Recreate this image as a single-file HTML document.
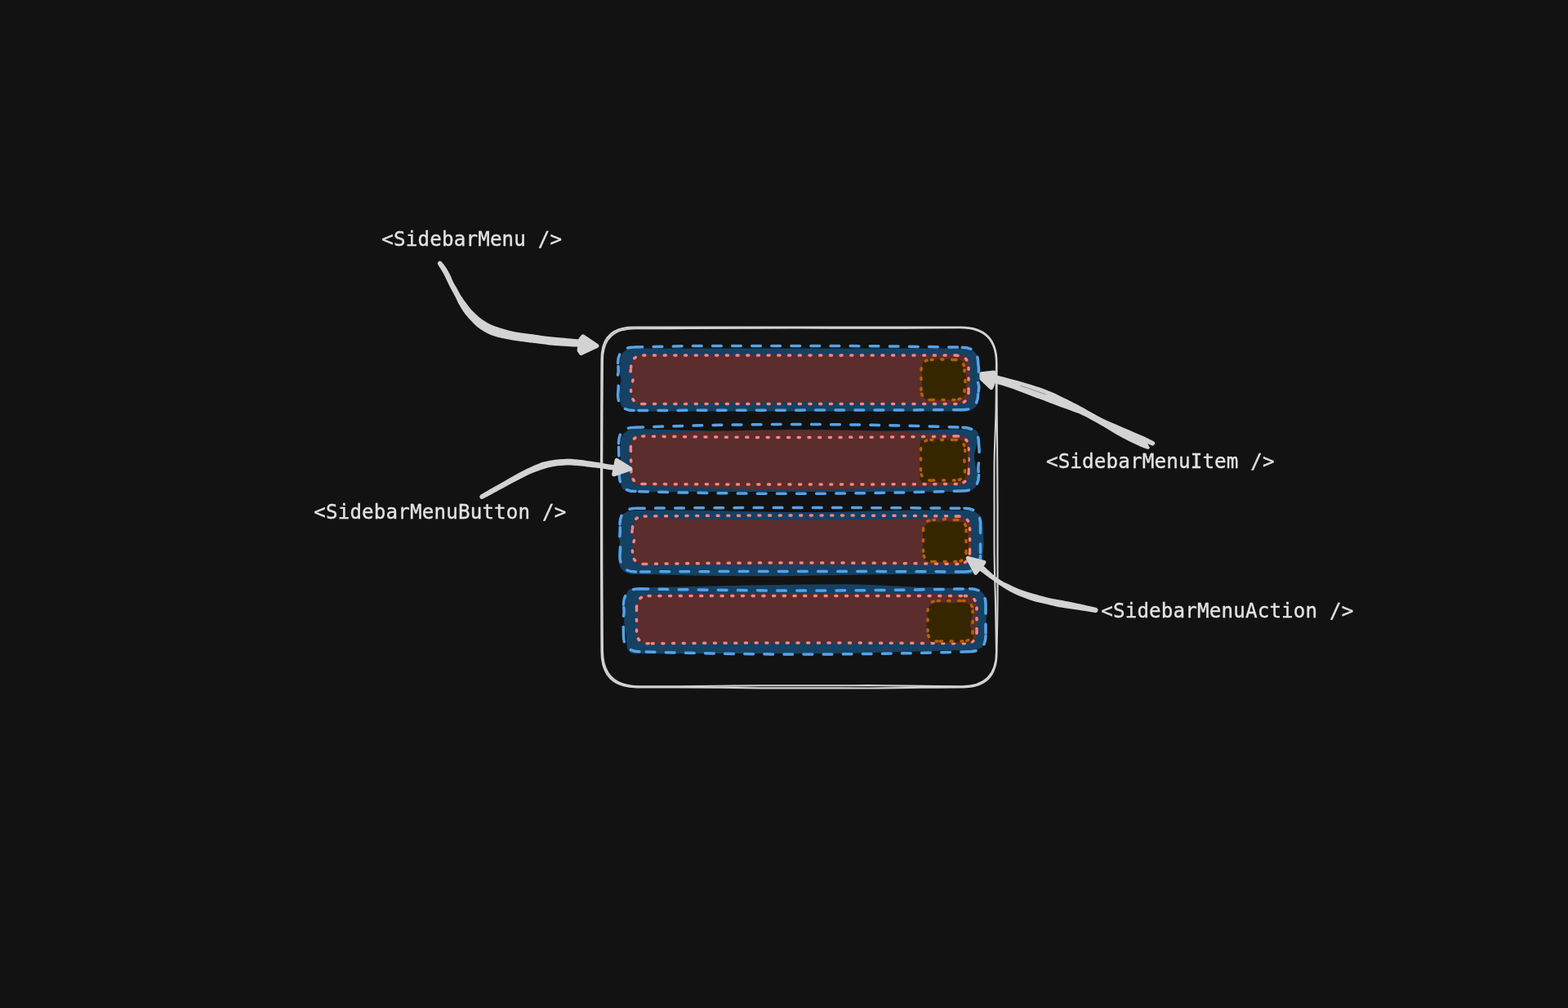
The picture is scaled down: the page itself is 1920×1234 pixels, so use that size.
<!DOCTYPE html>
<html lang="en">
<head>
<meta charset="utf-8">
<title>SidebarMenu anatomy</title>
<style>
html,body{margin:0;padding:0;background:#121212;}
body{width:1920px;height:1234px;overflow:hidden;font-family:"DejaVu Sans Mono","Liberation Mono",monospace;}
svg{display:block;position:absolute;left:0;top:0;}
</style>
</head>
<body>
<svg width="1920" height="1234" viewBox="0 0 1920 1234">
<rect width="1920" height="1234" fill="#121212"/>
<path d="M775.5 400.6C786.6 400.6 820.1 400.6 842.3 400.6C864.6 400.6 886.9 400.6 909.2 400.6C931.4 400.6 953.7 400.6 976 400.6C998.3 400.6 1020.6 400.5 1042.8 400.5C1065.1 400.5 1087.4 400.5 1109.7 400.5C1131.9 400.5 1165.4 400.6 1176.5 400.6Q1220.5 400.6 1220.5 444.6C1220.5 454.5 1220.6 484 1220.7 503.7C1220.8 523.4 1221.1 543.2 1221.2 562.9C1221.3 582.6 1221.5 602.3 1221.5 622C1221.5 641.7 1221.5 661.4 1221.5 681.1C1221.5 700.8 1221.7 720.6 1221.5 740.3C1221.3 760 1220.7 789.5 1220.5 799.4Q1220.5 841.4 1178.5 841.4C1170.2 841.5 1145.3 841.6 1128.8 841.8C1112.2 842 1095.6 842.3 1079 842.4C1062.4 842.5 1045.8 842.4 1029.2 842.4C1012.7 842.4 996.1 842.4 979.5 842.4C962.9 842.4 946.3 842.5 929.8 842.4C913.2 842.3 896.6 841.9 880 841.7C863.4 841.5 846.8 841.4 830.2 841.4C813.7 841.4 788.8 841.4 780.5 841.4Q736.5 841.4 736.5 797.4Q735.5 618.5 736.5 439.6Q736.5 400.6 775.5 400.6Z" fill="none" stroke="#d3d3d3" stroke-width="2.1" stroke-linecap="round" stroke-linejoin="round"/>
<path d="M776.9 402.2C788 402.2 821.2 402.1 843.4 402C865.6 401.9 887.8 401.8 909.9 401.7C932.1 401.6 954.3 401.5 976.5 401.5C998.6 401.5 1020.8 401.7 1043 401.7C1065.1 401.8 1087.3 401.8 1109.5 401.7C1131.7 401.6 1164.9 401.3 1176 401.2Q1220 401.1 1220 445.1C1219.9 454.9 1219.9 484.3 1219.5 504C1219.1 523.6 1217.9 543.2 1217.6 562.8C1217.3 582.4 1217.5 602 1217.5 621.7C1217.5 641.3 1217.3 660.9 1217.6 680.5C1217.8 700.1 1218.6 719.7 1219 739.4C1219.4 759 1219.8 788.4 1220 798.2Q1220 840.2 1178 840.2C1169.7 840.2 1145 840.1 1128.5 839.9C1112 839.7 1095.5 839.3 1079 839.2C1062.5 839.1 1046 839.2 1029.5 839.2C1013 839.2 996.5 839.2 980 839.2C963.4 839.2 946.9 839.1 930.4 839.2C913.9 839.3 897.4 839.6 880.9 839.8C864.4 840 847.9 840.1 831.4 840.2C814.9 840.3 790.2 840.2 781.9 840.2Q737.9 840.2 737.9 796.2Q736.5 618.8 737.9 441.3Q737.9 402.3 776.9 402.2Z" fill="none" stroke="#d3d3d3" stroke-width="2.1" stroke-linecap="round" stroke-linejoin="round"/>
<path d="M776.3 426.4Q977.9 426.4 1179.5 426.4Q1199 426.4 1199 445.9Q1199 464.9 1199 484Q1199 503.5 1179.5 503.5Q976.9 503.5 774.3 503.5Q759.3 503.5 759.3 488.5C759.2 486.6 758.3 481 758.5 477.2C758.7 473.5 760.3 469.7 760.3 465.9C760.3 462.2 758.9 458.4 758.7 454.7C758.5 450.9 759.2 445.3 759.3 443.4Q759.3 426.4 776.3 426.4Z" fill="#154163"/>
<path d="M776.1 425.1C787.3 424.9 820.8 423.9 843.1 423.6C865.5 423.3 887.8 423.5 910.1 423.4C932.5 423.4 954.8 423.4 977.2 423.4C999.5 423.5 1021.8 423.4 1044.2 423.6C1066.5 423.7 1088.8 423.9 1111.2 424.2C1133.5 424.5 1167 425 1178.2 425.2M1178.2 425.2Q1197.7 425.2 1197.7 444.7M1197.7 444.7C1197.8 446.3 1198.7 451 1198.5 454.1C1198.3 457.2 1196.5 460.4 1196.5 463.5C1196.5 466.6 1198.5 469.8 1198.7 472.9C1198.9 476 1197.9 480.7 1197.7 482.3M1197.7 482.3Q1197.7 501.8 1178.2 501.8M1178.2 501.8Q977.1 502.1 776.1 502.5M776.1 502.5Q756.6 502.5 756.6 483M756.6 483C756.7 481.4 757.3 476.6 757.2 473.4C757.1 470.2 755.8 467 755.8 463.8C755.8 460.6 757.1 457.4 757.2 454.2C757.3 451 756.7 446.2 756.6 444.6M756.6 444.6Q756.6 425.1 776.1 425.1" fill="none" stroke="#56a2e8" stroke-width="3.5" stroke-linecap="round" stroke-linejoin="round" stroke-dasharray="10.7 13.4"/>
<path d="M787.8 434.3Q980.5 434.3 1173.2 434.3Q1188 434.3 1188 449.1Q1188 464.6 1188 480.2Q1188 495 1173.2 495Q980.5 490 787.8 495Q773 495 773 480.2C773 478.9 772.6 475.1 773 472.4C773.4 469.8 775.2 467.2 775.2 464.6C775.2 462 773.1 459.5 772.7 456.9C772.3 454.2 773 450.4 773 449.1Q773 434.3 787.8 434.3Z" fill="#5b2d2d"/>
<path d="M787.8 435.1Q979.3 435.1 1170.8 435.1M1170.8 435.1Q1186 435.1 1186 450.3M1186 450.3Q1186 464.8 1186 479.3M1186 479.3Q1186 494.5 1170.8 494.5M1170.8 494.5Q979.3 494.5 787.8 494.5M787.8 494.5Q772.6 494.5 772.6 479.3M772.6 479.3C772.6 478.1 772.2 474.5 772.6 472.1C773 469.6 775.1 467.2 775 464.8C774.9 462.4 772.6 460 772.2 457.6C771.8 455.1 772.5 451.5 772.6 450.3M772.6 450.3Q772.6 435.1 787.8 435.1" fill="none" stroke="#ff8383" stroke-width="3.5" stroke-linecap="round" stroke-linejoin="round" stroke-dasharray="2 10.7"/>
<path d="M1140 439.5Q1154.8 439.5 1169.5 439.5Q1182.5 439.5 1182.5 452.5C1182.5 453.5 1182.3 456.6 1182.5 458.6C1182.7 460.7 1183.6 462.7 1183.7 464.8C1183.8 466.8 1183.3 468.8 1183.1 470.9C1182.9 472.9 1182.6 476 1182.5 477Q1182.5 489 1170.5 489Q1154.2 490.2 1138 489Q1129 489 1129 480Q1129 465.2 1129 450.5Q1129 439.5 1140 439.5Z" fill="#362600"/>
<path d="M1140.2 440.5Q1154.5 439.3 1168.8 440.5M1168.8 440.5Q1181 440.5 1181 452.8M1181 452.8C1181 453.8 1181.1 456.8 1181.3 458.9C1181.5 460.9 1181.9 463 1181.9 465C1182 467 1181.8 469.1 1181.6 471.1C1181.4 473.2 1181.1 476.2 1181 477.2M1181 477.2Q1181 489.5 1168.8 489.5M1168.8 489.5Q1154.5 489.5 1140.2 489.5M1140.2 489.5Q1128 489.5 1128 477.2M1128 477.2Q1128 465 1128 452.8M1128 452.8Q1128 440.5 1140.2 440.5" fill="none" stroke="#b76100" stroke-width="3.5" stroke-linecap="round" stroke-linejoin="round" stroke-dasharray="2 10.7"/>
<path d="M779.1 525Q983.3 532.2 1187.6 525Q1198.6 525 1198.6 536C1198.2 537.5 1196.9 542.2 1196 545.3C1195.1 548.4 1193.6 551.5 1193.2 554.6C1192.8 557.7 1193 560.8 1193.4 563.9C1193.8 567 1194.5 570.1 1195.4 573.2C1196.3 576.3 1198.1 581 1198.6 582.5Q1198.6 602 1179.1 602Q975.5 602 772 602Q760 602 759.9 590Q759.8 567.2 759.7 544.5Q759.6 525 779.1 525Z" fill="#154163"/>
<path d="M776.7 523.3Q977.9 515.7 1179 523.3M1179 523.3Q1198.5 523.3 1198.5 542.8M1198.5 542.8C1198.6 544.4 1199 549.2 1199.1 552.5C1199.2 555.7 1199.1 558.9 1198.9 562.1C1198.7 565.4 1198 568.6 1197.9 571.8C1197.8 575.1 1198.4 579.9 1198.5 581.5M1198.5 581.5Q1198.5 601 1179 601M1179 601Q978.5 607.3 778.1 601.6M778.1 601.6Q758.6 601.6 758.3 582.1M758.3 582.1Q757.9 562.5 757.5 542.8M757.5 542.8Q757.2 523.3 776.7 523.3" fill="none" stroke="#56a2e8" stroke-width="3.5" stroke-linecap="round" stroke-linejoin="round" stroke-dasharray="10.7 13.4"/>
<path d="M786.2 532.5Q979.2 519.7 1172.2 532.5Q1187 532.5 1187 547.2Q1187 563.2 1187 579.2Q1187 594 1172.2 594Q979.2 604.8 786.2 594Q771.5 594 771.5 579.2Q771.5 563.2 771.5 547.2Q771.5 532.5 786.2 532.5Z" fill="#5b2d2d"/>
<path d="M786.8 534Q979 537 1171.2 534M1171.2 534Q1186 534 1186 548.8M1186 548.8Q1186 563.2 1186 577.8M1186 577.8Q1186 592.5 1171.2 592.5M1171.2 592.5Q979.6 593.5 788 592.5M788 592.5Q773.2 592.5 772.9 577.8M772.9 577.8Q772.6 563.2 772.3 548.7M772.3 548.7Q772 534 786.8 534" fill="none" stroke="#ff8383" stroke-width="3.5" stroke-linecap="round" stroke-linejoin="round" stroke-dasharray="2 10.7"/>
<path d="M1131.6 538Q1151.6 538 1171.6 538Q1184.6 538 1184.6 551C1184.7 552 1184.8 555 1185 557C1185.2 559.1 1185.6 561.1 1185.6 563.1C1185.6 565.1 1185 567.1 1184.8 569.2C1184.6 571.2 1184.6 574.2 1184.6 575.2Q1184.6 590.2 1169.6 590.2Q1150.6 590.2 1131.6 590.2Q1126.6 590.2 1126.6 585.2Q1126.6 564.1 1126.6 543Q1126.6 538 1131.6 538Z" fill="#362600"/>
<path d="M1139.8 538.5Q1154.5 538.5 1169.2 538.5M1169.2 538.5Q1181.5 538.5 1181.5 550.8M1181.5 550.8C1181.6 551.8 1182.4 554.9 1182.3 557C1182.2 559.1 1180.7 561.2 1180.7 563.2C1180.7 565.3 1182.2 567.4 1182.3 569.5C1182.4 571.6 1181.6 574.7 1181.5 575.8M1181.5 575.8Q1181.5 588 1169.2 588M1169.2 588Q1154.5 588 1139.8 588M1139.8 588Q1127.5 588 1127.5 575.8M1127.5 575.8Q1127.5 563.2 1127.5 550.8M1127.5 550.8Q1127.5 538.5 1139.8 538.5" fill="none" stroke="#b76100" stroke-width="3.5" stroke-linecap="round" stroke-linejoin="round" stroke-dasharray="2 10.7"/>
<path d="M777 625C786.7 624.9 815.8 624.5 835.2 624.6C854.5 624.7 873.9 625.2 893.3 625.6C912.7 626 932.1 626.6 951.5 626.8C970.9 627 990.2 627.2 1009.6 627C1029 626.8 1048.4 626 1067.8 625.6C1087.2 625.2 1106.6 624.7 1125.9 624.6C1145.3 624.5 1174.4 624.9 1184.1 625Q1203.6 625 1203.6 644.5C1203.7 646.1 1203.8 651 1204 654.2C1204.2 657.5 1204.6 660.8 1204.6 664C1204.6 667.2 1204.2 670.5 1204 673.8C1203.8 677 1203.7 681.9 1203.6 683.5Q1203.6 703 1184.1 703C1172.8 703 1138.9 702.9 1116.2 703C1093.6 703.1 1071 703.5 1048.4 703.8C1025.8 704.1 1003.2 704.8 980.5 705C957.9 705.2 935.3 705.3 912.7 705.2C890.1 705.1 867.5 704.8 844.8 704.4C822.2 704 788.3 703.2 777 703Q757.5 703 757.5 683.5C757.4 681.9 756.6 677 756.9 673.8C757.2 670.5 759.1 667.2 759.1 664C759.1 660.8 757 657.5 756.7 654.2C756.4 651 757.4 646.1 757.5 644.5Q757.5 625 777 625Z" fill="#154163"/>
<path d="M778.5 622.3Q979.8 620.7 1181 622.3M1181 622.3Q1200.5 622.3 1200.5 641.8M1200.5 641.8Q1200.5 661.1 1200.5 680.5M1200.5 680.5Q1200.5 700 1181 700M1181 700Q979.8 699 778.5 700M778.5 700Q759 700 759 680.5M759 680.5C759.1 678.9 759.7 674.1 759.6 670.8C759.5 667.6 758.4 664.4 758.4 661.1C758.4 657.9 759.3 654.7 759.4 651.5C759.5 648.2 759.1 643.4 759 641.8M759 641.8Q759 622.3 778.5 622.3" fill="none" stroke="#56a2e8" stroke-width="3.5" stroke-linecap="round" stroke-linejoin="round" stroke-dasharray="10.7 13.4"/>
<path d="M789.8 633.5Q982.5 640.5 1175.2 633.5Q1190 633.5 1190 648.2Q1190 662.5 1190 676.8Q1190 691.5 1175.2 691.5Q982.5 690.5 789.8 691.5Q775 691.5 775 676.8C774.9 675.6 774.1 672 774.4 669.6C774.7 667.2 776.8 664.9 776.8 662.5C776.8 660.1 774.9 657.8 774.6 655.4C774.3 653 774.9 649.4 775 648.2Q775 633.5 789.8 633.5Z" fill="#5b2d2d"/>
<path d="M789.2 632Q981 630 1172.8 632M1172.8 632Q1187.5 632 1187.5 646.8M1187.5 646.8Q1187.5 661.2 1187.5 675.8M1187.5 675.8Q1187.5 690.5 1172.8 690.5M1172.8 690.5Q981 687.5 789.2 690.5M789.2 690.5Q774.5 690.5 774.5 675.8M774.5 675.8C774.4 674.5 773.8 670.9 774.1 668.5C774.4 666.1 776.5 663.7 776.5 661.2C776.5 658.8 774.2 656.4 773.9 654C773.6 651.6 774.4 648 774.5 646.8M774.5 646.8Q774.5 632 789.2 632" fill="none" stroke="#ff8383" stroke-width="3.5" stroke-linecap="round" stroke-linejoin="round" stroke-dasharray="2 10.7"/>
<path d="M1146 638.6C1147.1 638.7 1150.5 639.4 1152.8 639.2C1155 639.1 1157.2 637.8 1159.5 637.7C1161.8 637.7 1164 638.8 1166.2 638.9C1168.5 639 1171.9 638.6 1173 638.6Q1185 638.6 1185 650.6C1185 651.7 1184.9 655 1185 657.2C1185.1 659.4 1185.7 661.6 1185.8 663.8C1185.9 666 1185.9 668.2 1185.8 670.4C1185.7 672.6 1185.1 675.9 1185 677Q1185 688 1174 688Q1157.5 688 1141 688Q1130 688 1130 677Q1130 665.8 1130 654.6Q1130 638.6 1146 638.6Z" fill="#362600"/>
<path d="M1142.8 636.5C1143.9 636.5 1147.4 636.6 1149.8 636.5C1152.1 636.4 1154.4 635.6 1156.8 635.6C1159.1 635.6 1161.4 636.4 1163.8 636.5C1166.1 636.6 1169.6 636.5 1170.8 636.5M1170.8 636.5Q1183 636.5 1183 648.8M1183 648.8Q1183 662 1183 675.2M1183 675.2Q1183 687.5 1170.8 687.5M1170.8 687.5Q1156.8 687.5 1142.8 687.5M1142.8 687.5Q1130.5 687.5 1130.5 675.2M1130.5 675.2Q1130.5 662 1130.5 648.8M1130.5 648.8Q1130.5 636.5 1142.8 636.5" fill="none" stroke="#b76100" stroke-width="3.5" stroke-linecap="round" stroke-linejoin="round" stroke-dasharray="2 10.7"/>
<path d="M779 719.5C790.4 719.3 824.5 718.5 847.2 718C870 717.5 892.7 717 915.5 716.5C938.2 716.1 961 715.7 983.8 715.5C1006.5 715.3 1029.3 714.9 1052 715.4C1074.8 715.9 1097.5 717.7 1120.3 718.5C1143 719.3 1177.1 720.1 1188.5 720.5Q1208 720.5 1208 740C1208 741.6 1208.1 746.4 1208 749.6C1207.9 752.8 1207.6 756 1207.6 759.2C1207.6 762.5 1207.9 765.7 1208 768.9C1208.1 772.1 1208 776.9 1208 778.5Q1208 795.5 1191 795.7C1179.5 796 1145.2 796.8 1122.3 797.5C1099.4 798.1 1076.4 799.1 1053.5 799.6C1030.6 800 1007.7 800 984.8 800C961.9 800.1 939 800 916.1 800C893.2 800 870.2 800 847.3 800.1C824.4 800.2 790.1 800.3 778.6 800.4Q767.6 800.5 767.4 789.5C767.2 787.1 767 780 766.5 775.3C766 770.5 764.4 765.8 764.2 761C764 756.2 765 751.5 765.3 746.7C765.7 742 766.1 734.9 766.3 732.5Q766 719.5 779 719.5Z" fill="#154163"/>
<path d="M783 720.7Q985.2 725.3 1187.5 720.7M1187.5 720.7Q1207 720.7 1207 740.2M1207 740.2Q1207 759.2 1207 778.2M1207 778.2Q1207 797.7 1187.5 797.7M1187.5 797.7Q985.2 804.3 783 797.7M783 797.7Q763.5 797.7 763.5 778.2M763.5 778.2C763.5 776.6 763.4 771.9 763.3 768.7C763.2 765.5 762.8 762.4 762.9 759.2C763 756 764 752.9 764.1 749.7C764.2 746.5 763.6 741.8 763.5 740.2M763.5 740.2Q763.5 720.7 783 720.7" fill="none" stroke="#56a2e8" stroke-width="3.5" stroke-linecap="round" stroke-linejoin="round" stroke-dasharray="10.7 13.4"/>
<path d="M794.8 728Q988 724 1181.2 728Q1196 728 1196 742.8Q1196 758.2 1196 773.8Q1196 788.5 1181.2 788.5Q988 784.5 794.8 788.5Q780 788.5 780 773.8Q780 758.2 780 742.8Q780 728 794.8 728Z" fill="#5b2d2d"/>
<path d="M794.2 729.4Q987.8 729.4 1181.2 729.4M1181.2 729.4Q1196 729.4 1196 744.1M1196 744.1Q1196 758.6 1196 773M1196 773Q1196 787.8 1181.2 787.8M1181.2 787.8Q987.8 786.2 794.2 787.8M794.2 787.8Q779.5 787.8 779.5 773M779.5 773Q779.5 758.6 779.5 744.1M779.5 744.1Q779.5 729.4 794.2 729.4" fill="none" stroke="#ff8383" stroke-width="3.5" stroke-linecap="round" stroke-linejoin="round" stroke-dasharray="2 10.7"/>
<path d="M1148.6 737.8C1149.9 737.7 1153.7 737.1 1156.2 737.2C1158.8 737.3 1161.4 738.6 1163.9 738.6C1166.5 738.6 1169 737.5 1171.5 737.4C1174.1 737.3 1177.9 737.7 1179.2 737.8Q1191.2 737.8 1191.2 749.8C1191 751.1 1190.4 754.9 1189.8 757.5C1189.2 760.1 1187.7 762.6 1187.8 765.2C1187.9 767.8 1190 770.3 1190.6 772.9C1191.2 775.5 1191.1 779.3 1191.2 780.6Q1191.2 786.6 1185.2 786.6Q1166.4 786.6 1147.6 786.6Q1135.6 786.6 1135.6 774.6C1135.5 773.6 1135.2 770.6 1135 768.6C1134.8 766.7 1134.5 764.7 1134.6 762.7C1134.7 760.7 1135.4 758.7 1135.6 756.8C1135.8 754.8 1135.6 751.8 1135.6 750.8Q1135.6 737.8 1148.6 737.8Z" fill="#362600"/>
<path d="M1148.2 735.5Q1163.5 735.5 1178.8 735.5M1178.8 735.5Q1191 735.5 1191 747.8M1191 747.8Q1191 760.2 1191 772.8M1191 772.8Q1191 785 1178.8 785M1178.8 785Q1163.5 785 1148.2 785M1148.2 785Q1136 785 1136 772.8M1136 772.8Q1136 760.2 1136 747.8M1136 747.8Q1136 735.5 1148.2 735.5" fill="none" stroke="#b76100" stroke-width="3.5" stroke-linecap="round" stroke-linejoin="round" stroke-dasharray="2 10.7"/>
<path d="M540.4 320.2C541.4 321.4 544.4 324.9 546.1 327.5C547.8 330.1 549.3 332.9 550.8 335.8C552.3 338.8 553.6 342.4 555 345.2C556.4 348 557.6 349.7 559.2 352.5C560.8 355.3 562.3 358.6 564.4 361.9C566.5 365.2 569.6 369.4 571.9 372.5C574.2 375.6 576 378 578.4 380.6C580.8 383.2 583.7 385.7 586.3 387.9C588.9 390.1 591.5 392 594.1 393.6C596.7 395.2 598.9 396.5 601.9 397.8C604.9 399.1 608.8 400.4 612.3 401.5C615.8 402.6 619.2 403.7 622.7 404.6C626.2 405.5 629.6 406.1 633.1 406.7C636.6 407.3 639.8 407.7 643.5 408.2C647.2 408.7 650.7 409 655.3 409.7C659.9 410.4 666 411.5 671.3 412.1C676.6 412.8 681.7 413.1 686.9 413.6C692.1 414.1 698 414.6 702.5 414.9C707 415.2 712.1 415.4 714 415.5L713 425.1C711.2 425 706.9 424.9 702.5 424.6C698.1 424.3 692.1 423.9 686.9 423.5C681.7 423.1 676.6 422.8 671.3 422.2C666 421.6 659 420.6 655.3 420.1C651.5 419.6 651.6 419.7 648.8 419.4C646 419.1 641.8 418.6 638.3 418.1C634.8 417.6 631.4 417.2 627.9 416.6C624.4 416 621 415.3 617.5 414.5C614 413.7 610.1 412.8 607.1 411.9C604.1 411 601.9 410.4 599.3 409.3C596.7 408.2 594.1 406.8 591.5 405.1C588.9 403.5 586.2 401.6 583.6 399.4C581 397.1 578.4 394.5 575.8 391.6C573.2 388.7 570.3 385.4 568 382.2C565.7 379 563.6 375.4 562 372.5C560.4 369.6 559.4 367.1 558.1 364.5C556.8 361.9 555.4 359.3 554 356.7C552.6 354.1 551.2 351.7 549.8 348.9C548.4 346.1 547 342.8 545.6 340C544.2 337.2 543 334.9 541.5 332.2C540 329.5 537.2 325.3 536.3 323.9A2.8 2.8 0 0 1 540.4 320.2 Z" fill="#d3d3d3"/>
<path d="M730.9 423.4L713.9 411.8L710.9 415.6L709.1 429.1L711.6 432.5Z" fill="#d3d3d3" stroke="#d3d3d3" stroke-width="5" stroke-linejoin="round"/>
<path d="M588.2 606C589.9 605 594.2 602.2 598.6 599.7C603 597.2 609.1 593.9 614.3 590.9C619.5 587.9 624.7 584.9 629.9 582C635.1 579.1 640.3 576.2 645.5 573.7C650.7 571.2 656.8 568.5 661.1 566.9C665.4 565.3 668.3 565 671.5 564.3C674.7 563.6 677.2 563.1 680.4 562.7C683.6 562.3 687.3 562 690.8 561.9C694.3 561.8 697.8 561.7 701.3 561.9C704.8 562.1 708.2 562.5 711.7 562.9C715.2 563.3 718.2 563.9 722.1 564.5C726 565.1 731.6 566 735.1 566.6C738.6 567.2 739.2 567.5 742.9 568.1C746.5 568.7 754.6 569.8 757 570.1L756 576.3C753.8 576 746.4 574.9 742.9 574.4C739.4 573.9 738.6 573.7 735.1 573.3C731.6 572.9 726 572.3 722.1 571.8C718.2 571.3 715.2 570.9 711.7 570.5C708.2 570.1 704.8 569.8 701.3 569.7C697.8 569.6 693.8 569.6 690.8 569.7C687.8 569.8 685.3 570 683 570.3C680.7 570.6 679.6 570.7 676.8 571.3C674 571.9 670.6 572.5 666.3 573.9C661.9 575.2 655.9 577.2 650.7 579.4C645.5 581.6 640.3 584.5 635.1 587.2C629.9 589.9 624.7 592.7 619.5 595.5C614.3 598.3 608.5 601.4 603.8 603.9C599.1 606.4 593.4 609.5 591.3 610.6A2.8 2.8 0 0 1 588.2 606 Z" fill="#d3d3d3"/>
<path d="M771.9 573.9L755.1 563.5L751.7 580.8Z" fill="#d3d3d3" stroke="#d3d3d3" stroke-width="5" stroke-linejoin="round"/>
<path d="M1217 458.6C1218 458.8 1219.7 459.1 1222.8 459.9C1225.9 460.7 1231 462.2 1235.8 463.5C1240.6 464.8 1246.3 466.2 1251.5 467.7C1256.7 469.2 1261.9 470.7 1267.1 472.4C1272.3 474.1 1277.5 476 1282.7 478.1C1287.9 480.2 1292.1 482 1298.3 484.9C1304.5 487.8 1313.8 492.4 1320 495.7C1326.2 499 1330.4 501.7 1335.6 504.6C1340.8 507.5 1346.1 510.4 1351.3 512.9C1356.5 515.4 1361.7 517.4 1366.9 519.7C1372.1 522 1377.3 524.2 1382.5 526.5C1387.7 528.8 1393.1 531 1398.1 533.2C1403 535.4 1409.8 538.8 1412.2 539.9A2.8 2.8 0 0 1 1410.0 545.3L1405.2 542.9L1407.9 548.0A2.8 2.8 0 0 1 1404.2 549.6C1403.2 549.2 1401.7 548.9 1398.1 547.3C1394.5 545.7 1387.7 542.6 1382.5 540C1377.3 537.4 1372.1 534.7 1366.9 531.7C1361.7 528.8 1356.5 525.3 1351.3 522.3C1346.1 519.2 1340.8 516.1 1335.6 513.4C1330.4 510.6 1326.2 508.4 1320 505.8C1313.8 503.2 1304.5 500.2 1298.3 497.9C1292.1 495.6 1287.9 493.9 1282.7 492C1277.5 490.1 1272.3 488.2 1267.1 486.2C1261.9 484.2 1256.7 482.1 1251.5 480.2C1246.3 478.2 1240.8 476.1 1235.8 474.5C1230.8 472.9 1224.9 471.2 1221.8 470.3C1218.7 469.4 1217.8 469.4 1217 469.2Z" fill="#d3d3d3"/>
<path d="M1249.9 472.4C1255 474 1270 479 1280.1 482.8" fill="none" stroke="#121212" stroke-opacity="0.5" stroke-width="0.7" stroke-linecap="round"/>
<path d="M1201.8 457.8L1216.9 455.9L1218.5 463L1213.8 474.6L1201.9 463.4Z" fill="#d3d3d3" stroke="#d3d3d3" stroke-width="5" stroke-linejoin="round"/>
<path d="M1342.2 743.9C1339.3 743.2 1332.2 741.5 1325 740C1317.8 738.5 1306 736.2 1299 734.8C1292 733.4 1288.5 732.9 1283.3 731.7C1278.1 730.5 1272.9 729 1267.7 727.5C1262.5 726 1257.3 724.7 1252.1 722.8C1246.9 720.9 1240.8 718 1236.5 716C1232.2 714 1229.5 713 1226 710.8C1222.5 708.6 1219.1 705.9 1215.6 703C1212.1 700.1 1207.6 695.8 1205.2 693.6C1202.8 691.4 1201.7 690.3 1201 689.6L1196 695.6C1196.7 696.1 1196.7 696.5 1200 698.9C1203.3 701.3 1211.3 707.2 1215.6 710.3C1219.9 713.4 1222.5 715.3 1226 717.6C1229.5 719.9 1232.2 721.6 1236.5 723.9C1240.8 726.1 1246.9 729 1252.1 731.1C1257.3 733.2 1262.5 734.9 1267.7 736.4C1272.9 737.9 1278.1 738.8 1283.3 740C1288.5 741.2 1292 742.4 1299 743.6C1306 744.9 1318.1 746.5 1325 747.5C1331.9 748.5 1338 749.5 1340.6 749.9A3.1 3.1 0 0 0 1342.2 743.9 Z" fill="#d3d3d3"/>
<path d="M1185.3 683.3L1204.9 688.4L1194.8 701.3Z" fill="#d3d3d3" stroke="#d3d3d3" stroke-width="5" stroke-linejoin="round"/>
<g font-family="'DejaVu Sans Mono', 'Liberation Mono', monospace" font-size="24.2" fill="#e2e2e2" stroke="#e2e2e2" stroke-width="0.35" stroke-linejoin="round" style="will-change:transform" xml:space="preserve">
<text x="467.3" y="301" textLength="220.8" lengthAdjust="spacing">&lt;SidebarMenu /&gt;</text>
<text x="384.2" y="634.5" textLength="309.1" lengthAdjust="spacing">&lt;SidebarMenuButton /&gt;</text>
<text x="1280.9" y="572.7" textLength="279.7" lengthAdjust="spacing">&lt;SidebarMenuItem /&gt;</text>
<text x="1348.2" y="756.3" textLength="309.1" lengthAdjust="spacing">&lt;SidebarMenuAction /&gt;</text>
</g>
</svg>
</body>
</html>
